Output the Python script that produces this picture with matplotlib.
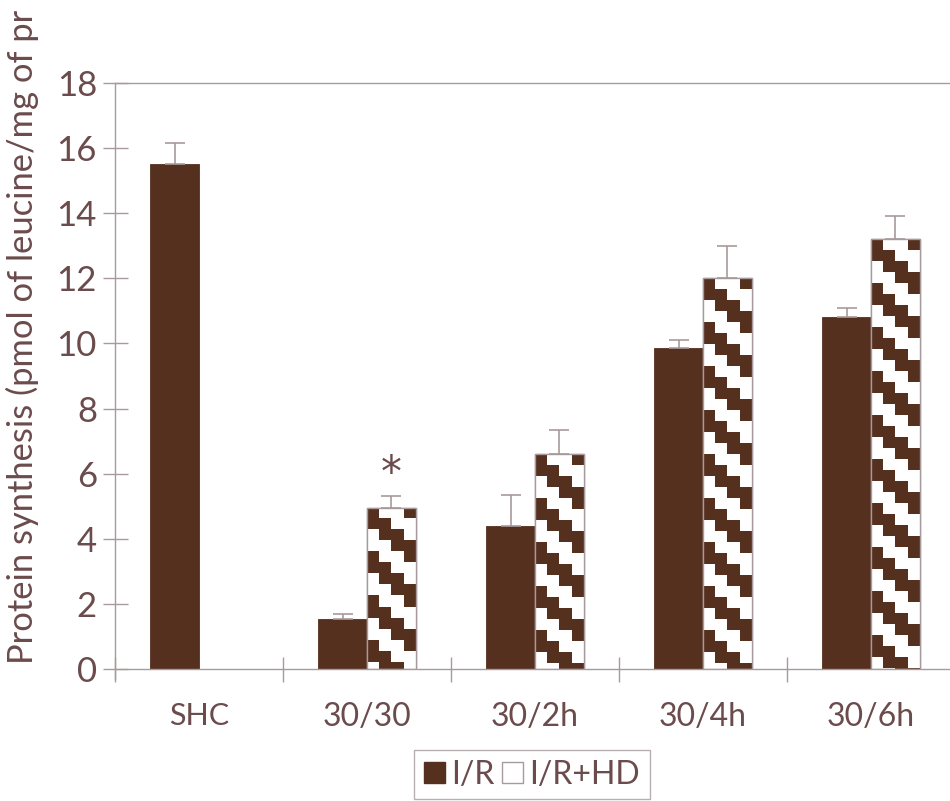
import numpy as np
import matplotlib.pyplot as plt
from matplotlib.colors import ListedColormap
from matplotlib.patches import Rectangle, Patch

categories = ["SHC", "30/30", "30/2h", "30/4h", "30/6h"]
ir_mean = [15.5, 1.55, 4.4, 9.85, 10.8]
ir_err = [0.65, 0.15, 0.95, 0.25, 0.3]
hd_mean = [0.0, 4.95, 6.6, 12.0, 13.2]
hd_err = [0.0, 0.35, 0.75, 1.0, 0.7]

BROWN = "#55301f"
TEXT = "#6b4b4c"
LINE = "#a89a9a"
FONT = "Lato"

fig = plt.figure(figsize=(9.5, 8.01), dpi=100)
ax = fig.add_axes([115 / 950, 132 / 801, 840 / 950, 586 / 801])

x = np.arange(len(categories)) + 0.5
w = 0.289

ax.bar(x - w / 2, ir_mean, w, color=BROWN, edgecolor=BROWN, linewidth=0.6, zorder=2)
ax.errorbar(x - w / 2, ir_mean, yerr=[np.zeros(len(x)), ir_err], fmt="none",
            ecolor=LINE, elinewidth=1.2, capsize=7, capthick=1.2, zorder=3)

# staircase pattern for the I/R+HD bars
cell_h = 11 / 32.55
stairs = ListedColormap(["white", BROWN])
for xi, h, e in zip(x, hd_mean, hd_err):
    if h <= 0:
        continue
    bar = ax.bar(xi + w / 2, h, w, color="white", edgecolor=LINE,
                 linewidth=1.0, zorder=2)[0]
    nrows = int(np.ceil(h / cell_h)) + 1
    rows, cols = np.mgrid[0:nrows, 0:4]
    pattern = np.where(((rows - cols) % 4) < 2, 1.0, 0.0)
    im = ax.imshow(pattern, cmap=stairs, extent=[xi, xi + w, h - nrows * cell_h, h],
                   origin="upper", interpolation="nearest", aspect="auto", zorder=2.5)
    im.set_clip_path(bar)
    ax.add_patch(Rectangle((xi, 0), w, h, fill=False, edgecolor=LINE,
                           linewidth=1.0, zorder=2.6))
    ax.errorbar(xi + w / 2, h, yerr=[[0], [e]], fmt="none", ecolor=LINE,
                elinewidth=1.2, capsize=7, capthick=1.2, zorder=3)

# significance mark over 30/30
ax.text(x[1] + w / 2, hd_mean[1] + hd_err[1] + 0.05, "*", ha="center", va="bottom",
        fontsize=30, color=TEXT, family="DejaVu Sans")

ax.set_xlim(0, 5)
ax.set_ylim(0, 18)
ax.set_yticks(np.arange(0, 19, 2))
ax.set_xticks(x)
ax.set_xticklabels(categories)
ax.set_xticks(np.arange(0, 6), minor=True)
ax.tick_params(axis="x", which="major", length=0, pad=24, labelsize=23,
               labelcolor=TEXT)
ax.tick_params(axis="x", which="minor", direction="inout", length=18,
               color=LINE, width=1.0)
ax.tick_params(axis="y", direction="inout", length=18, color=LINE, width=1.0,
               labelsize=25, labelcolor=TEXT, pad=4)
for lab in ax.get_xticklabels() + ax.get_yticklabels():
    lab.set_family(FONT)
ax.get_xticklabels()[0].set_fontsize(22)

for side in ["left", "bottom", "top", "right"]:
    ax.spines[side].set_color(LINE)
    ax.spines[side].set_linewidth(1.0)
ax.spines["left"].set_bounds(-0.3, 18)

ax.set_ylabel("Protein synthesis (pmol of leucine/mg of pr", fontsize=24.8,
              color=TEXT, family=FONT)
ax.yaxis.set_label_coords(-0.09, 0.008)
ax.yaxis.label.set_horizontalalignment("left")

handles = [Patch(facecolor=BROWN, edgecolor=BROWN),
           Patch(facecolor="white", edgecolor=LINE)]
leg = fig.legend(handles, ["I/R", "I/R+HD"], loc="lower center",
                 bbox_to_anchor=(532 / 950, 0.0), ncol=2, frameon=True,
                 fancybox=False, edgecolor=LINE, handlelength=0.65,
                 handleheight=0.65, handletextpad=0.2, columnspacing=0.25,
                 borderpad=0.3, borderaxespad=0.05, prop={"family": FONT, "size": 23})
for t in leg.get_texts():
    t.set_color(TEXT)

fig.savefig("out.png", dpi=100)
